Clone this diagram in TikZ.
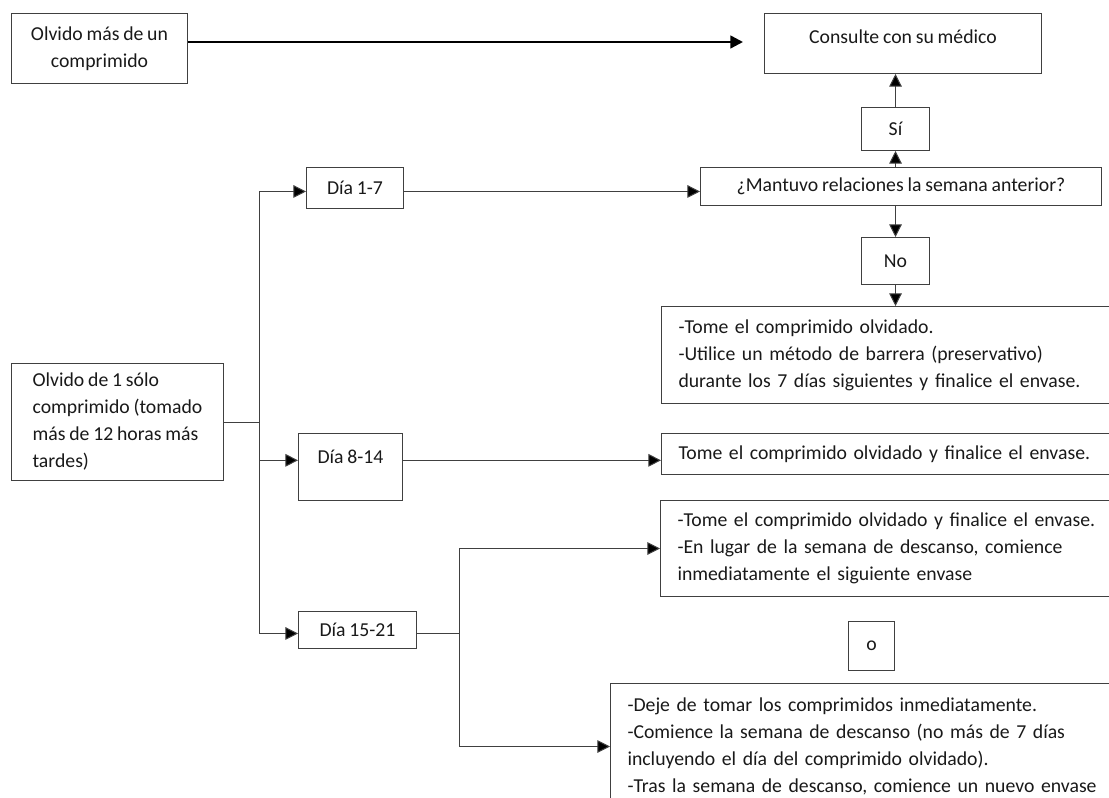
\documentclass[tikz,border=0pt]{standalone}
\usepackage{fontspec}
\setmainfont{Carlito}[WordSpace=0.85]
\usetikzlibrary{arrows.meta}
\tikzset{ bx/.style = { draw = black!75
                      , line width = 0.75pt
                      , anchor = north west
                      , inner sep = 0pt
                      , align = center
                      },
          tx/.style = { bx
                      , inner xsep = 12.75pt
                      , align = left
                      },
          ln/.style = { draw = black!75
                      , line width = 0.75pt
                      },
          ar/.style = { ln
                      , -{Triangle[length=9.5pt, width=9.5pt, fill=black]}
                      }
        }

\begin{document}
\begin{tikzpicture}[x=0.75pt, y=-0.75pt, font=\fontsize{14.8}{20.25}\selectfont, text=black!90]
          \clip (0,0) rectangle (1109,798);
          \node[bx, minimum width=132pt, minimum height=52.5pt] (mas) at (11,13) {Olvido más de un\\comprimido};
          \node[bx, minimum width=207.75pt, minimum height=45pt, text height=6pt, text depth=6pt] (medico) at (764,13) {Consulte con su médico};
          \node[bx, minimum width=300.75pt, minimum height=28.5pt] (mant) at (700,167) {¿Mantuvo relaciones la semana anterior?};
          \node[bx, minimum width=78pt, minimum height=50.25pt, text height=8pt, text depth=13.25pt] (dia2) at (298,433) {Día 8-14};
          \foreach \n/\x/\y/\w/\h/\s in {si/861/107/51/32.25/Sí, no/861/237/51/35.25/No, ob/848/621/34.5/36.75/o,
                                         dia1/306/167/72.75/30.75/Día 1-7, dia3/298/611/88.5/27.75/Día 15-21} {
            \node[bx, minimum width=\w pt, minimum height=\h pt] (\n) at (\x,\y) {\s};
          }
          \node[tx, text width=345pt, minimum height=72.75pt] (tome1) at (661,306)
               {-Tome el comprimido olvidado.\\-Utilice un método de barrera (preservativo)\\durante los 7 días siguientes y finalice el envase.};
          \node[bx, align=left, minimum width=159pt, minimum height=87.75pt] (uno) at (11,363)
               {Olvido de 1 sólo\\comprimido (tomado\\más de 12 horas más\\tardes)};
          \node[tx, text width=345pt, minimum height=30.75pt] (tome2) at (661,433)
               {Tome el comprimido olvidado y finalice el envase.};
          \node[tx, text width=345pt, minimum height=72pt] (tome3) at (660,500)
               {-Tome el comprimido olvidado y finalice el envase.\\-En lugar de la semana de descanso, comience\\inmediatamente el siguiente envase};
          \node[tx, text width=380pt, minimum height=94.5pt] (deje) at (610,683)
               {-Deje de tomar los comprimidos inmediatamente.\\-Comience la semana de descanso (no más de 7 días\\incluyendo el día del comprimido olvidado).\\-Tras la semana de descanso, comience un nuevo envase};
          \coordinate (medin) at (743,42);
          \draw[ar, line width=1.8pt, draw=black] (mas.east |- medin) -- (medin);
          \draw[ar] (mant.north -| si.south) -- (si.south);
          \draw[ar] (si.north) -- (si.north |- medico.south);
          \draw[ar] (mant.south -| no.north) -- (no.north);
          \draw[ar] (no.south) -- (no.south |- tome1.north);
          \draw[ar] (dia1.mid east) -- (dia1.mid east -| mant.west);
          \coordinate (bus1) at (259,0);
          \draw[ln] (uno.east) -- (uno.east -| bus1);
          \draw[ln] (bus1 |- dia1.mid west) -- (bus1 |- dia3.mid west);
          \foreach \n in {dia1, dia2, dia3} {
            \draw[ar] (bus1 |- \n.mid west) -- (\n.mid west);
          }
          \draw[ar] (dia2.mid east) -- (dia2.mid east -| tome2.west);
          \coordinate (bus2) at (459,0);
          \draw[ln] (dia3.mid east) -- (dia3.mid east -| bus2);
          \draw[ln] (bus2 |- tome3.west) -- (bus2 |- deje.west);
          \foreach \n in {tome3, deje} {
            \draw[ar] (bus2 |- \n.west) -- (\n.west);
          }
        \end{tikzpicture}
\end{document}
